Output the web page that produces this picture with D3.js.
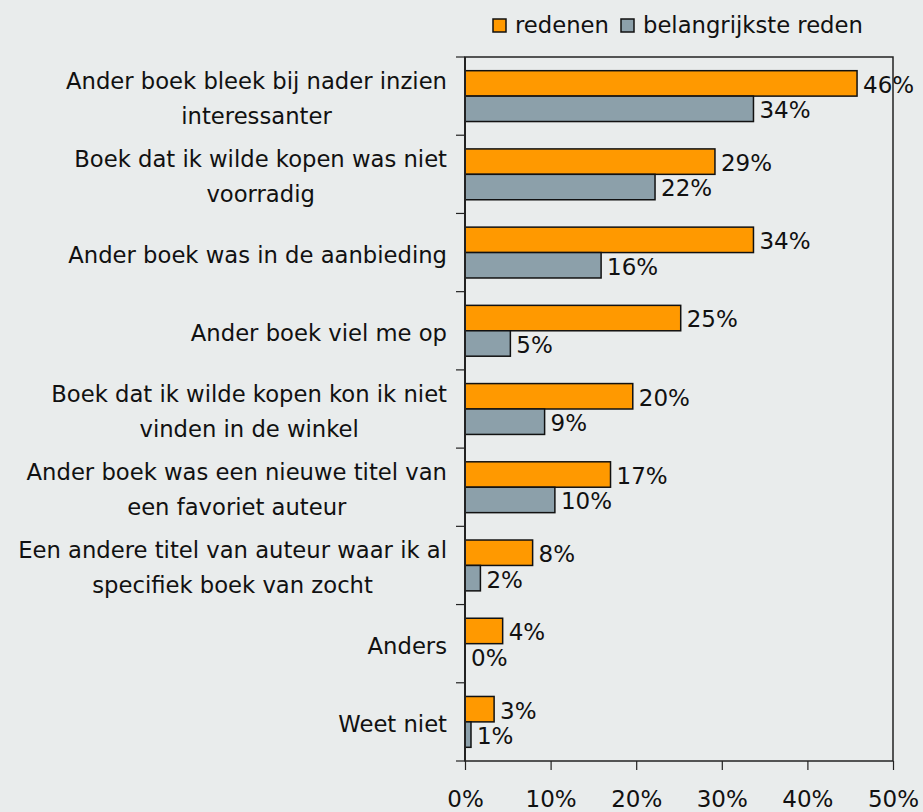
<!DOCTYPE html>
<html><head><meta charset="utf-8">
<script src="https://cdn.jsdelivr.net/npm/d3@7"></script>
<style>
html,body{margin:0;padding:0;background:#E9ECEC;}
svg{display:block;font-family:"DejaVu Sans",Verdana,sans-serif;}
</style></head>
<body><svg id="c" width="923" height="812"></svg>
<script>
const categories = [
  ["Ander boek bleek bij nader inzien","interessanter"],
  ["Boek dat ik wilde kopen was niet","voorradig"],
  ["Ander boek was in de aanbieding"],
  ["Ander boek viel me op"],
  ["Boek dat ik wilde kopen kon ik niet","vinden in de winkel"],
  ["Ander boek was een nieuwe titel van","een favoriet auteur"],
  ["Een andere titel van auteur waar ik al","specifiek boek van zocht"],
  ["Anders"],
  ["Weet niet"]
];
const seriesNames = ["redenen","belangrijkste reden"];
const redenen = [45.8, 29.2, 33.7, 25.2, 19.6, 17.0, 7.9, 4.4, 3.4];
const belangrijkste = [33.7, 22.2, 15.9, 5.3, 9.3, 10.5, 1.8, 0.0, 0.7];
const redenenLabels = ["46%","29%","34%","25%","20%","17%","8%","4%","3%"];
const belangrijksteLabels = ["34%","22%","16%","5%","9%","10%","2%","0%","1%"];
const xTicks = [0,10,20,30,40,50];
const colors = ["#FF9900","#8CA0AA"];

const svg = d3.select("#c");
const L=465, R=893, T=57, B=761;
const keys = categories.map((c,i)=>"c"+i);
const x = d3.scaleLinear().domain([0,50]).range([L,R]);
const y0 = d3.scaleBand().domain(keys).range([T,B]).paddingInner(0.35).paddingOuter(0.175);
const y1 = d3.scaleBand().domain(seriesNames).range([0,y0.bandwidth()]);
const FS = 22.7, VFS = 23;

// frame
svg.append("rect").attr("x",L).attr("y",T).attr("width",R-L).attr("height",B-T)
  .attr("fill","none").attr("stroke","#222").attr("stroke-width",1.5);

// category ticks at band boundaries
const step = y0.step();
const bounds = d3.range(keys.length+1).map(i=>y0(keys[0]) - y0.paddingOuter()*step + i*step);
svg.append("g").selectAll("line").data(bounds).join("line")
  .attr("x1",L-9).attr("x2",L).attr("y1",d=>d).attr("y2",d=>d)
  .attr("stroke","#222").attr("stroke-width",1.2);

// x axis
const xa = svg.append("g").attr("transform",`translate(0,${B})`)
  .call(d3.axisBottom(x).tickValues(xTicks).tickFormat(d=>d+"%").tickSize(9).tickSizeOuter(0));
xa.select(".domain").remove();
xa.selectAll("line").attr("stroke","#222").attr("stroke-width",1.2);
xa.selectAll("text").attr("y",46).attr("dy",0).attr("font-size",VFS)
  .attr("font-family","\"DejaVu Sans\",Verdana,sans-serif").attr("fill","#111");

// bars
const rows = keys.map((k,i)=>({k, vals:[
  {s:seriesNames[0], v:redenen[i], lab:redenenLabels[i]},
  {s:seriesNames[1], v:belangrijkste[i], lab:belangrijksteLabels[i]}]}));
const g = svg.append("g").selectAll("g").data(rows).join("g")
  .attr("transform",d=>`translate(0,${y0(d.k)})`);
g.selectAll("rect").data(d=>d.vals).join("rect")
  .attr("x",x(0)).attr("y",d=>y1(d.s)).attr("height",y1.bandwidth())
  .attr("width",d=>x(d.v)-x(0))
  .attr("fill",(d,i)=>colors[i]).attr("stroke",d=>d.v>0?"#111":"none").attr("stroke-width",1.5);
g.selectAll("text").data(d=>d.vals).join("text")
  .attr("x",d=>x(d.v)+6).attr("y",d=>y1(d.s)+y1.bandwidth()/2).attr("dy","0.41em")
  .attr("font-size",VFS).attr("fill","#111").text(d=>d.lab);

// left axis line (drawn over)
svg.append("line").attr("x1",L).attr("x2",L).attr("y1",T).attr("y2",B)
  .attr("stroke","#222").attr("stroke-width",2);

// category labels
const LX = 447, LH = 35;
categories.forEach((lines,i)=>{
  const cy = y0(keys[i]) + y0.bandwidth()/2;
  const t = svg.append("text").attr("font-size",FS).attr("fill","#111");
  const spans = lines.map((ln,j)=>t.append("tspan").text(ln)
     .attr("y", cy + (j-(lines.length-1)/2)*LH).attr("dy","0.46em"));
  const W = d3.max(spans.map(s=>s.node().getComputedTextLength()));
  spans.forEach(s=>s.attr("x", LX - W/2).attr("text-anchor","middle"));
});

// legend
const lg = svg.append("g");
const legItems = [{n:seriesNames[0], c:colors[0], x:493},{n:seriesNames[1], c:colors[1], x:621}];
legItems.forEach(d=>{
  lg.append("rect").attr("x",d.x).attr("y",19).attr("width",13).attr("height",13)
    .attr("fill",d.c).attr("stroke","#111").attr("stroke-width",1.5);
  lg.append("text").attr("x",d.x+22).attr("y",33).attr("font-size",FS).attr("fill","#111").text(d.n);
});
</script></body></html>
